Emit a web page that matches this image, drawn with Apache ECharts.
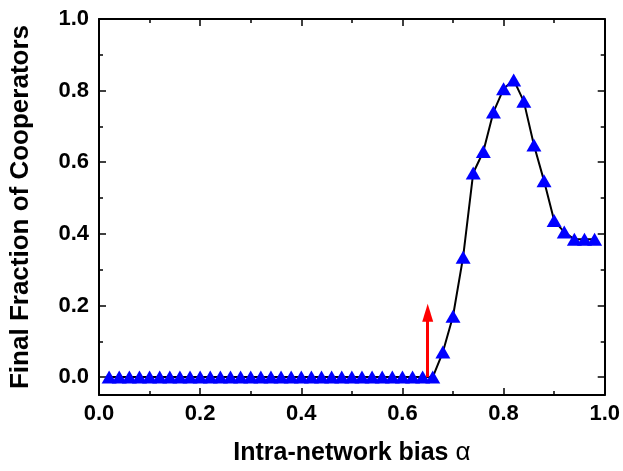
<!DOCTYPE html>
<html>
<head>
<meta charset="utf-8">
<script src="https://cdn.jsdelivr.net/npm/echarts@6/dist/echarts.min.js"></script>
<style>
    html, body { margin: 0; padding: 0; background: #fff; }
    #chart { width: 623px; height: 471px; }
</style>
</head>
<body>
<div id="chart"></div>
<script>
// 数据
var alphaValues = [0.02, 0.04, 0.06, 0.08, 0.10, 0.12, 0.14, 0.16, 0.18, 0.20,
    0.22, 0.24, 0.26, 0.28, 0.30, 0.32, 0.34, 0.36, 0.38, 0.40,
    0.42, 0.44, 0.46, 0.48, 0.50, 0.52, 0.54, 0.56, 0.58, 0.60,
    0.62, 0.64, 0.66, 0.68, 0.70, 0.72, 0.74, 0.76, 0.78, 0.80,
    0.82, 0.84, 0.86, 0.88, 0.90, 0.92, 0.94, 0.96, 0.98];
var cooperators = [0, 0, 0, 0, 0, 0, 0, 0, 0, 0,
    0, 0, 0, 0, 0, 0, 0, 0, 0, 0,
    0, 0, 0, 0, 0, 0, 0, 0, 0, 0,
    0, 0, 0, 0.07, 0.17, 0.335, 0.57, 0.63, 0.74, 0.805,
    0.83, 0.77, 0.648, 0.548, 0.437, 0.405, 0.385, 0.385, 0.385];
var arrowX = [0.65, 0.65];
var arrowY = [0, 0.18];
var xTicks = ['0.0', '0.2', '0.4', '0.6', '0.8', '1.0'];

var points = [];
for (var i = 0; i < alphaValues.length; i++) {
    points.push([alphaValues[i], cooperators[i]]);
}

var labelFont = 'Liberation Sans, Arial, sans-serif';
var frameLine = { show: true, onZero: false, lineStyle: { color: '#000', width: 2 } };
var innerTick = { show: true, inside: true, length: 7, lineStyle: { color: '#000', width: 1.5 } };
var innerMinor = { show: true, splitNumber: 2, length: 4, lineStyle: { color: '#000', width: 1.5 } };

var chart = echarts.init(document.getElementById('chart'));
chart.setOption({
    animation: false,
    grid: { left: 94, right: 16, top: 19, bottom: 74 },
    xAxis: [
        {
            type: 'value', min: 0, max: 1, interval: 0.2, position: 'bottom',
            name: '{b|Intra-network bias }{a|α}',
            nameLocation: 'middle', nameGap: 45,
            nameTextStyle: {
                rich: {
                    b: { fontFamily: labelFont, fontWeight: 'bold', fontSize: 25, color: '#000' },
                    a: { fontFamily: labelFont, fontWeight: 'normal', fontSize: 26, color: '#000' }
                }
            },
            axisLine: frameLine, axisTick: innerTick, minorTick: innerMinor,
            splitLine: { show: false },
            axisLabel: {
                margin: 8, color: '#000', fontFamily: labelFont, fontWeight: 'bold', fontSize: 22,
                formatter: function (v) { return xTicks[Math.round(v * 5)]; }
            }
        },
        {
            type: 'value', min: 0, max: 1, interval: 0.2, position: 'top',
            axisLine: frameLine, axisTick: innerTick, minorTick: innerMinor,
            splitLine: { show: false }, axisLabel: { show: false }
        }
    ],
    yAxis: [
        {
            type: 'value', min: -0.05, max: 1, position: 'left', splitNumber: 5,
            name: 'Final Fraction of Cooperators',
            nameLocation: 'middle', nameGap: 65,
            nameTextStyle: { fontFamily: labelFont, fontWeight: 'bold', fontSize: 26, color: '#000' },
            axisLine: frameLine, axisTick: innerTick, minorTick: innerMinor,
            splitLine: { show: false },
            axisLabel: {
                margin: 10, showMinLabel: false, color: '#000', fontFamily: labelFont, fontWeight: 'bold', fontSize: 22,
                formatter: function (v) { return v.toFixed(1); }
            }
        },
        {
            type: 'value', min: -0.05, max: 1, position: 'right', splitNumber: 5,
            axisLine: frameLine, axisTick: innerTick, minorTick: innerMinor,
            splitLine: { show: false }, axisLabel: { show: false }
        }
    ],
    series: [
        {
            type: 'line',
            data: points,
            symbol: 'triangle',
            symbolSize: [15, 13],
            lineStyle: { color: '#000', width: 2 },
            itemStyle: { color: '#0000ff' },
            markLine: {
                silent: true,
                symbol: ['none', 'triangle'],
                symbolSize: [11, 18],
                label: { show: false },
                lineStyle: { color: '#ff0000', width: 3, type: 'solid' },
                data: [[
                    { coord: [arrowX[0], arrowY[0]] },
                    { coord: [arrowX[1], arrowY[1]] }
                ]]
            }
        }
    ]
});
</script>
</body>
</html>
